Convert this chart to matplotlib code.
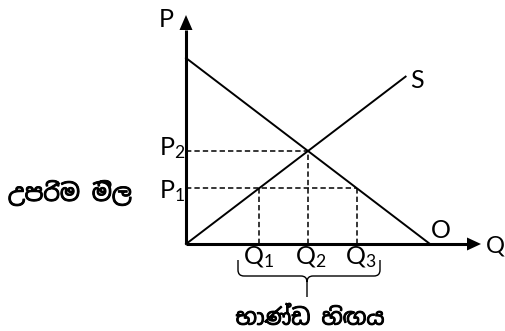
import matplotlib
matplotlib.use('Agg')
import matplotlib.pyplot as plt
import matplotlib.patheffects as pe
from matplotlib.patches import Polygon, PathPatch
from matplotlib.path import Path

# ---- data (economic units) ----
demand_Q = [0, 10]
demand_P = [10, 0]
supply_Q = [0, 9]
supply_P = [0, 9]
q_levels = [3, 5, 7]          # Q1, Q2, Q3
q_labels = ['Q_1', 'Q_2', 'Q_3']
p_levels = [3, 5]             # P1 (ceiling), P2 (equilibrium)
p_labels = ['P_1', 'P_2']
ceiling_label = 'උපරිම මිල'
shortage_label = 'භාණ්ඩ හිඟය'

plt.rcParams['mathtext.fontset'] = 'custom'
plt.rcParams['mathtext.rm'] = 'Lato'
plt.rcParams['mathtext.it'] = 'Lato'

W, H = 505, 331
fig = plt.figure(figsize=(W / 100, H / 100), dpi=100)
ax = fig.add_axes([0, 0, 1, 1])
ox, oy = 186, 244      # origin pixel
sx, sy = 24.4, 18.6    # pixels per unit
ax.set_xlim(-ox / sx, (W - ox) / sx)
ax.set_ylim(-(H - oy) / sy, oy / sy)
ax.axis('off')

def px(x, y):
    return ((x - ox) / sx, (oy - y) / sy)

# axes with arrows
x_end, x_tip = px(467, 0)[0], px(481, 0)[0]
y_end, y_tip = px(0, 30)[1], px(0, 15)[1]
ax.plot([0, x_end], [0, 0], color='black', lw=2.2, solid_capstyle='butt')
ax.plot([0, 0], [0, y_end], color='black', lw=2.2, solid_capstyle='butt')
hw_x = 6.5 / sx
hw_y = 6.5 / sy
ax.add_patch(Polygon([[-hw_x, y_end], [hw_x, y_end], [0, y_tip]], closed=True,
                     color='black', lw=0))
ax.add_patch(Polygon([[x_end, -hw_y], [x_end, hw_y], [x_tip, 0]], closed=True,
                     color='black', lw=0))

# demand and supply
ax.plot(demand_Q, demand_P, color='black', lw=1.4)
ax.plot(supply_Q, supply_P, color='black', lw=1.4)

# dashed guides
dash = dict(color='black', lw=1.1, linestyle=(0, (3.5, 2)))
p1, p2 = p_levels
q1, q2, q3 = q_levels
ax.plot([0, q2], [p2, p2], **dash)
ax.plot([0, q3], [p1, p1], **dash)
ax.plot([q1, q1], [0, p1], **dash)
ax.plot([q2, q2], [0, p2], **dash)
ax.plot([q3, q3], [0, p1], **dash)

fs = 18
def lab(s, x, y, size=fs):
    ax.text(*px(x, y), r'$\mathregular{%s}$' % s, fontsize=size, ha='left',
            va='baseline', family='Lato')

lab('P', 158, 27)
lab(p_labels[1], 159, 155)
lab(p_labels[0], 159, 198)
lab('S', 410, 88)
lab('O', 430, 238)
lab('Q', 485, 253, 17)
for s, x in zip(q_labels, [243, 295, 345]):
    lab(s, x, 264)

# brace
L, R, C = 238, 380, 307
T, B, Tip = 260, 276, 297
pts = [px(L, T), px(L, B - 6), px(L, B), px(L + 6, B), px(C - 6, B), px(C, B), px(C, B + 6),
       px(C, Tip), px(C, B + 6), px(C, B), px(C + 6, B), px(R - 6, B), px(R, B), px(R, B - 6), px(R, T)]
codes = [Path.MOVETO, Path.LINETO, Path.CURVE3, Path.CURVE3, Path.LINETO, Path.CURVE3, Path.CURVE3,
         Path.LINETO, Path.MOVETO, Path.CURVE3, Path.CURVE3, Path.LINETO, Path.CURVE3, Path.CURVE3,
         Path.LINETO]
ax.add_patch(PathPatch(Path(pts, codes), facecolor='none', edgecolor='black', lw=1.0))

# Sinhala labels (stroke to imitate bold weight)
bold = [pe.withStroke(linewidth=0.7, foreground='black')]
ax.text(*px(8, 194), ceiling_label, fontsize=17, family='Noto Sans Sinhala',
        ha='left', va='center', path_effects=bold)
ax.text(*px(310, 319), shortage_label, fontsize=16, family='Noto Sans Sinhala',
        ha='center', va='center', path_effects=bold)

fig.savefig('out.png', dpi=100)
